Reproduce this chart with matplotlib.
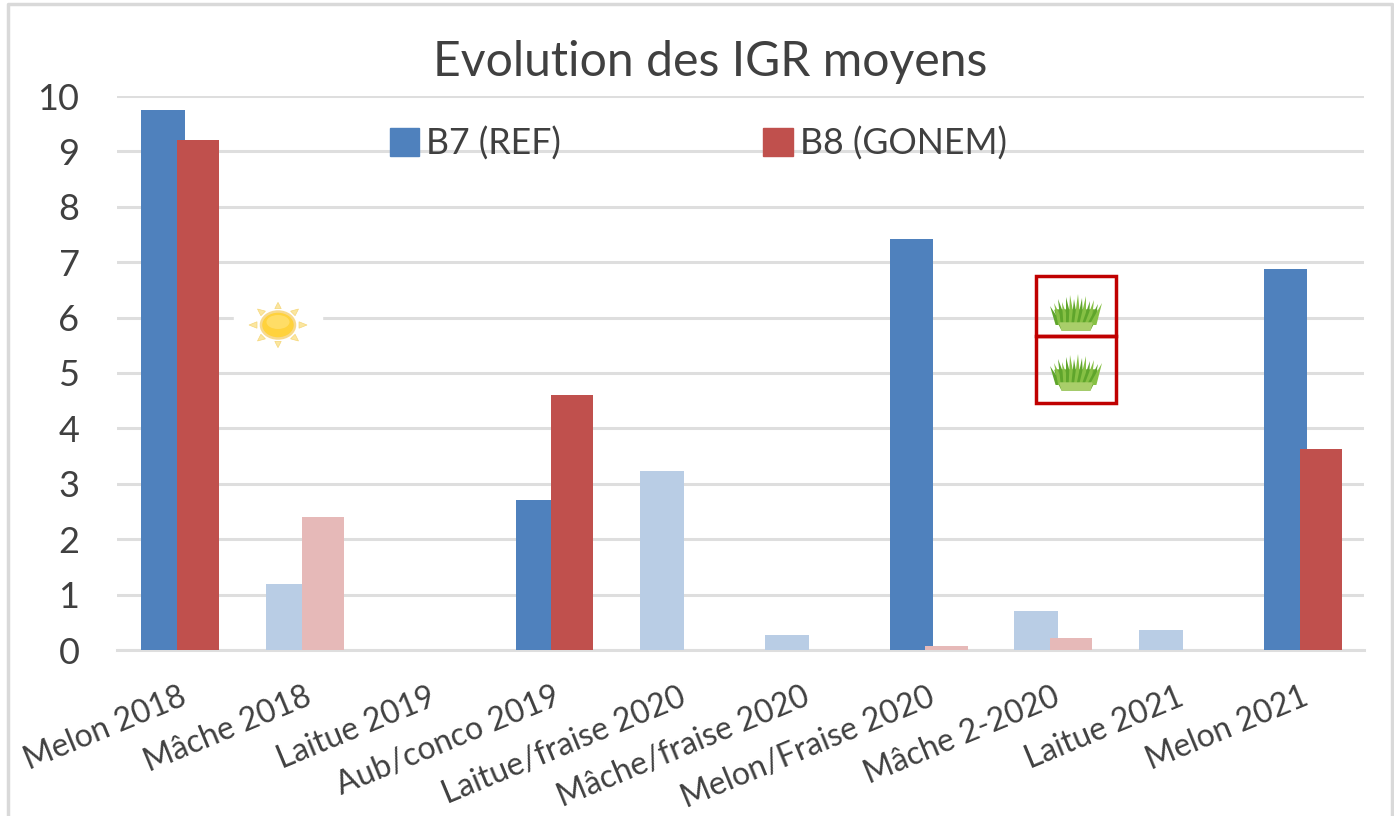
#Description: Evolution des IGR moyens, bars for B7 and B8 per crop

#Libraries
import numpy as np
import matplotlib
matplotlib.use('Agg')
import matplotlib.pyplot as plt
from matplotlib.patches import Rectangle, Ellipse, Polygon

plt.rcParams['font.family'] = ['Lato', 'DejaVu Sans']

#Data
cultures = ['Melon 2018', 'Mâche 2018', 'Laitue 2019', 'Aub/conco 2019', 'Laitue/fraise 2020',
            'Mâche/fraise 2020', 'Melon/Fraise 2020', 'Mâche 2-2020', 'Laitue 2021', 'Melon 2021']
b7_ref = [9.75, 1.2, 0, 2.7, 3.23, 0.27, 7.42, 0.7, 0.37, 6.87]
b8_gonem = [9.2, 2.4, 0, 4.6, 0, 0, 0.07, 0.22, 0, 3.63]
#Bars drawn pale in the original
pale_b7 = [False, True, True, False, True, True, False, True, True, False]
pale_b8 = [False, True, True, False, True, True, True, True, True, False]

blue = '#4F81BD'
red = '#C0504D'
pale_blue = '#B9CDE5'
pale_red = '#E6B9B8'
text_col = '#404040'
W, H = 1394, 816

fig = plt.figure(figsize=(W/100, H/100), dpi=100)

#Main axes placed by pixels
left, right, top, bottom = 117, 1364, 96, 650
ax = fig.add_axes([left/W, 1-bottom/H, (right-left)/W, (bottom-top)/H])

x = np.arange(len(cultures))
ax.bar(x-0.129, b7_ref, 0.35, color=[pale_blue if p else blue for p in pale_b7], zorder=3)
ax.bar(x+0.152, b8_gonem, 0.337, color=[pale_red if p else red for p in pale_b8], zorder=4)

ax.set_xlim(-0.5, len(cultures)-0.5)
ax.set_ylim(0, 10)
ax.set_yticks(range(0, 11))
ax.grid(axis='y', color='#DEDEDE', linewidth=2.2, zorder=0)
ax.set_axisbelow(True)
for s in ['top', 'right', 'left']:
	ax.spines[s].set_visible(False)
ax.spines['bottom'].set_color('#DEDEDE')
ax.spines['bottom'].set_linewidth(2.2)
ax.tick_params(axis='both', length=0)
ax.tick_params(axis='y', labelsize=26, labelcolor=text_col, pad=27)
ax.set_xticks(x)
ax.set_xticklabels(cultures, rotation=22.5, ha='right', rotation_mode='anchor', fontsize=23, color=text_col)
ax.tick_params(axis='x', pad=23)

#Legend
handles = [Rectangle((0, 0), 1, 1, color=blue), Rectangle((0, 0), 1, 1, color=red)]
ax.legend(handles, ['B7 (REF)', 'B8 (GONEM)'], ncol=2, frameon=False, fontsize=25.7, labelcolor=text_col,
          loc='center left', bbox_to_anchor=(0.2186, 0.914), handlelength=0.83, handleheight=0.83,
          handletextpad=0.2, columnspacing=5.66, borderpad=0, borderaxespad=0)

fig.text(710/W, 1-62/H, 'Evolution des IGR moyens', fontsize=34.7, color=text_col, ha='center', va='center')

#Overlay in pixel coordinates for the frame and the pictograms
deco = fig.add_axes([0, 0, 1, 1], facecolor='none')
deco.set_xlim(0, W)
deco.set_ylim(H, 0)
deco.axis('off')

#Outer frame
deco.plot([8, 8, 1392, 1392], [816, 4, 4, 816], color='#D9D9D9', linewidth=2.5)

#Sun
deco.add_patch(Rectangle((234, 300), 88, 48, color='white', zorder=1))
sx, sy = 278, 325
for a in range(0, 360, 45):
	t = np.radians(a)
	u = np.array([np.cos(t), np.sin(t)*0.78])
	n = np.array([-np.sin(t), np.cos(t)])
	c = np.array([sx, sy])
	deco.add_patch(Polygon([c+u*21+n*3.2, c+u*29, c+u*21-n*3.2], color='#FBE6A0', ec='#F5D77A', lw=0.5, zorder=2))
deco.add_patch(Ellipse((sx, sy), 34, 27, fc='#FFD23C', ec='#F7D98C', lw=1.8, zorder=3))
deco.add_patch(Ellipse((sx, sy-3), 23, 14, fc='#FFDD66', ec='none', zorder=4))

#Grass in red boxes
tips = [(-26, -24), (-22, -27), (-18, -31), (-14, -28), (-10, -33), (-6, -35), (-2, -31), (2, -36), (6, -32), (10, -34), (14, -29), (18, -30), (22, -26), (26, -27)]
for (y0, y1), base in zip([(276, 336), (336, 403)], [330, 390]):
	deco.add_patch(Rectangle((1036, y0), 80, y1-y0, fill=False, ec='#C00000', lw=2.5, zorder=5))
	deco.add_patch(Polygon([[1055, base-20], [1097, base-20], [1093, base-6], [1090, base], [1062, base], [1059, base-6]], color='#6FAE34', zorder=2))
	deco.add_patch(Polygon([[1060, base-7], [1092, base-7], [1090, base], [1062, base]], color='#A9CE6A', zorder=4))
	for k, (dx, h) in enumerate(tips):
		cx = 1076+dx*0.65
		col = '#5FA52C' if k % 2 == 0 else '#86C044'
		deco.add_patch(Polygon([[cx-3.5, base-5], [1076+dx, base+h], [cx+3.5, base-5]], color=col, ec='none', zorder=3))

fig.savefig('out.png', dpi=100)
